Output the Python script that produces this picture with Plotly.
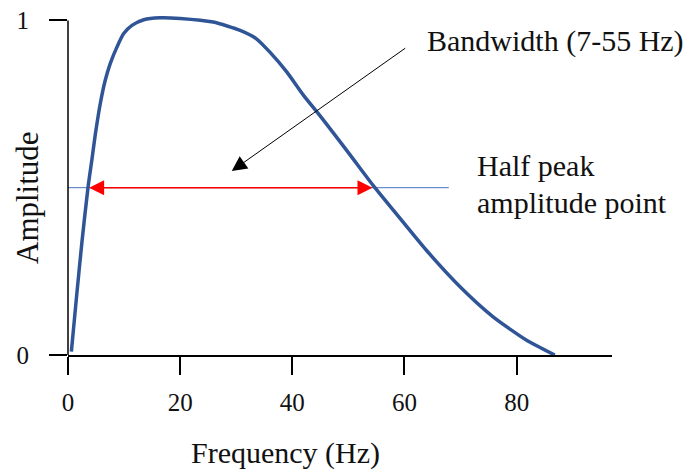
import plotly.graph_objects as go

# Data
freq = [0.6, 1.5, 2.5, 3.56, 4.27, 4.86, 5.75, 6.64, 7.53, 8.72, 9.9, 11.4, 13.5, 16.4, 20,
        25.9, 30.7, 33.6, 36.0, 39.0, 42.0, 44.6, 46.1, 50.3, 54.4, 58.0, 63.9, 69.9, 75.8,
        81.7, 86.8]
amp = [0.01, 0.17, 0.34, 0.50, 0.585, 0.658, 0.751, 0.821, 0.871, 0.920, 0.960, 0.985, 1.002,
       1.008, 1.006, 0.995, 0.970, 0.945, 0.905, 0.846, 0.776, 0.722, 0.69, 0.598, 0.507,
       0.433, 0.313, 0.204, 0.114, 0.045, 0.0]

half_level = 0.5
half_line_x = [0, 67.9]
band_lo, band_hi = 3.5, 54.3
x_ticks = [0, 20, 40, 60, 80]
y_ticks = [0, 1]

FONT = '"Liberation Serif", "Times New Roman", Times, serif'

fig = go.Figure()
fig.add_trace(go.Scatter(x=half_line_x, y=[half_level, half_level], mode="lines",
                         line=dict(color="#4472C4", width=1), hoverinfo="skip"))
fig.add_trace(go.Scatter(x=freq, y=amp, mode="lines",
                         line=dict(color="#2F5597", width=3.5, shape="spline", smoothing=0.6)))

# Red double-headed arrow between half-peak points
fig.add_annotation(x=band_hi, y=half_level, ax=band_lo, ay=half_level, axref="x", ayref="y",
                   xref="x", yref="y", text="", showarrow=True, arrowside="end+start",
                   arrowhead=2, arrowsize=2, arrowwidth=1.5, arrowcolor="#FF0000")
# Black arrow from Bandwidth label
fig.add_annotation(x=29.2, y=0.55, ax=60.4, ay=0.92, axref="x", ayref="y",
                   xref="x", yref="y", text="", showarrow=True,
                   arrowhead=2, arrowsize=3, arrowwidth=1, arrowcolor="#000000")

fig.add_annotation(x=63.6, y=0.937, xref="x", yref="y", text="Bandwidth (7-55 Hz)",
                   showarrow=False, xanchor="left", yanchor="middle",
                   font=dict(family=FONT, size=30, color="#111"))
fig.add_annotation(x=72.6, y=0.565, xref="x", yref="y", text="Half peak",
                   showarrow=False, xanchor="left", yanchor="middle",
                   font=dict(family=FONT, size=30, color="#111"))
fig.add_annotation(x=72.6, y=0.456, xref="x", yref="y", text="amplitude point",
                   showarrow=False, xanchor="left", yanchor="middle",
                   font=dict(family=FONT, size=30, color="#111"))

# Axis titles (paper coordinates)
fig.add_annotation(x=0.399, y=-0.2816, xref="paper", yref="paper", text="Frequency (Hz)",
                   showarrow=False, xanchor="center", yanchor="middle",
                   font=dict(family=FONT, size=30, color="#111"))
fig.add_annotation(x=-0.0754, y=0.454, xref="paper", yref="paper", text="Amplitude",
                   textangle=-90, showarrow=False, xanchor="center", yanchor="middle",
                   font=dict(family=FONT, size=31, color="#111"))

# y axis line only from 0 to 1
fig.add_shape(type="line", xref="paper", yref="y", x0=0, x1=0, y0=0, y1=1,
              line=dict(color="#000", width=1.5))

fig.update_layout(
    width=685, height=471,
    margin=dict(l=68, r=73, t=7, b=116),
    paper_bgcolor="white", plot_bgcolor="white",
    showlegend=False,
    font=dict(family=FONT, color="#111"),
    xaxis=dict(range=[0, 97], tickvals=x_ticks, ticks="outside", ticklen=18, tickwidth=1.5,
               tickcolor="#000", showline=True, linecolor="#000", linewidth=1.5,
               showgrid=False, zeroline=False, tickfont=dict(size=25, family=FONT, color="#111"),
               ticklabelstandoff=6),
    yaxis=dict(range=[0, 1.04], tickvals=y_ticks, ticks="outside", ticklen=18, tickwidth=1.5,
               tickcolor="#000", showline=False, showgrid=False, zeroline=False,
               tickfont=dict(size=25, family=FONT, color="#111"), ticklabelstandoff=15),
)

fig.write_html("out.html")
